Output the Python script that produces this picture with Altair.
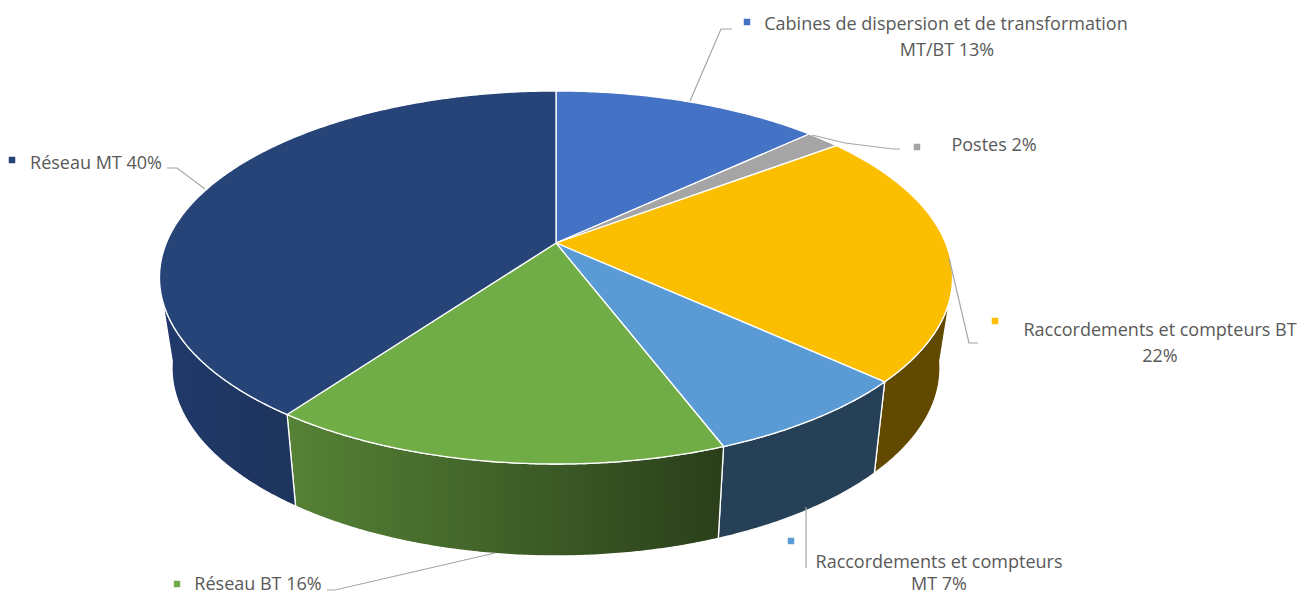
import numpy as np
import pandas as pd
import altair as alt

# Slice data, clockwise from the top of the pie
names = ["Cabines", "Postes", "Raccordements BT", "Raccordements MT", "Réseau BT", "Réseau MT"]
shares = [13, 2, 22, 7, 16, 40]
# slice boundaries, as angles on the drawn (tilted) disc
edges = [0, 39.7, 45, 124, 155, 222.7, 360]
top_colors = ["#4472C4", "#A5A5A5", "#FCBE00", "#5B9BD5", "#70AD47", "#264478"]

# Visible sides of the disc: slice, top arc range, bottom arc range, gradient colours (left, right)
sides = [
    ("Raccordements BT", (97, 124), (88, 124), "#614A00", "#614A00"),
    ("Raccordements MT", (124, 155), (124, 155), "#264057", "#264057"),
    ("Réseau BT", (155, 222.7), (155, 222.7), "#568236", "#2A3F1A"),
    ("Réseau MT", (222.7, 263), (222.7, 272), "#21396A", "#1D345C"),
]

# Text rows
label_text = ["Cabines de dispersion et de transformation", "MT/BT 13%", "Postes 2%",
              "Raccordements et compteurs BT", "22%", "Raccordements et compteurs",
              "MT 7%", "Réseau BT 16%", "Réseau MT 40%"]
label_x = [946, 947, 994, 1160, 1160, 939, 939, 258, 96]
label_y = [25, 51, 146, 331, 357, 563, 585, 585, 164]

# Legend keys
key_x = [747, 917, 995, 791, 177, 12]
key_y = [22, 147, 321, 541, 584, 160]

# Leader lines
leaders = [
    [(690, 101), (721, 29), (732, 29)],
    [(812, 135), (845, 143), (893, 149), (900, 149)],
    [(949, 258), (969, 343), (978, 343)],
    [(806, 507), (806, 568)],
    [(495, 553), (335, 590), (327, 590)],
    [(205, 189), (177, 168), (167, 168)],
]

CX, CY, APEX_Y = 556, 277.5, 243
RX, RY = 396.5, 186.5
BX, BY, BCY = 384, 188, 368

W, H = 1291, 596
xs = alt.Scale(domain=[8, 8 + W], range=[0, W], nice=False, zero=False)
ys = alt.Scale(domain=[8, 8 + H], range=[0, H], nice=False, zero=False)
X = lambda f="x": alt.X(f"{f}:Q", scale=xs, axis=None)
Y = lambda f="y": alt.Y(f"{f}:Q", scale=ys, axis=None)


def arc(t0, t1, rx, ry, cy):
    t = np.radians(np.linspace(t0, t1, max(int(abs(t1 - t0)) * 2, 2) + 1))
    return list(zip(CX + rx * np.sin(t), cy - ry * np.cos(t)))


def polygon(points, fill):
    df = pd.DataFrame(points, columns=["x", "y"])
    df["i"] = range(len(df))
    return alt.Chart(df).mark_line(fill=fill, stroke="white", strokeWidth=1.3, strokeJoin="round").encode(
        x=X(), y=Y(), order="i:Q"
    )


layers = []
for name, top_r, bot_r, c0, c1 in sides:
    pts = arc(top_r[0], top_r[1], RX, RY, CY) + arc(bot_r[1], bot_r[0], BX, BY, BCY)
    pts.append(pts[0])
    fill = alt.Gradient(gradient="linear", x1=0, x2=1, y1=0, y2=0,
                        stops=[alt.GradientStop(offset=0, color=c0), alt.GradientStop(offset=1, color=c1)])
    layers.append(polygon(pts, fill))

for k, name in enumerate(names):
    pts = [(CX, APEX_Y)] + arc(edges[k], edges[k + 1], RX, RY, CY) + [(CX, APEX_Y)]
    layers.append(polygon(pts, top_colors[k]))

for pts in leaders:
    df = pd.DataFrame(pts, columns=["x", "y"])
    df["i"] = range(len(df))
    layers.append(alt.Chart(df).mark_line(color="#A6A6A6", strokeWidth=1.2).encode(x=X(), y=Y(), order="i:Q"))

keys = pd.DataFrame({"x": key_x, "y": key_y, "c": top_colors})
layers.append(alt.Chart(keys).mark_square(size=42, opacity=1).encode(
    x=X(), y=Y(), color=alt.Color("c:N", scale=None)))

labels = pd.DataFrame({"x": label_x, "y": label_y, "t": label_text})
layers.append(alt.Chart(labels).mark_text(font="Open Sans", fontSize=18, color="#595959", align="center",
                                          baseline="middle").encode(x=X(), y=Y(), text="t:N"))

chart = alt.layer(*layers).properties(
    width=W, height=H, padding=0, autosize=alt.AutoSizeParams(type="none"), background="white"
).configure_view(stroke=None)

chart.save("out.html", embed_options={"renderer": "svg", "actions": False})
